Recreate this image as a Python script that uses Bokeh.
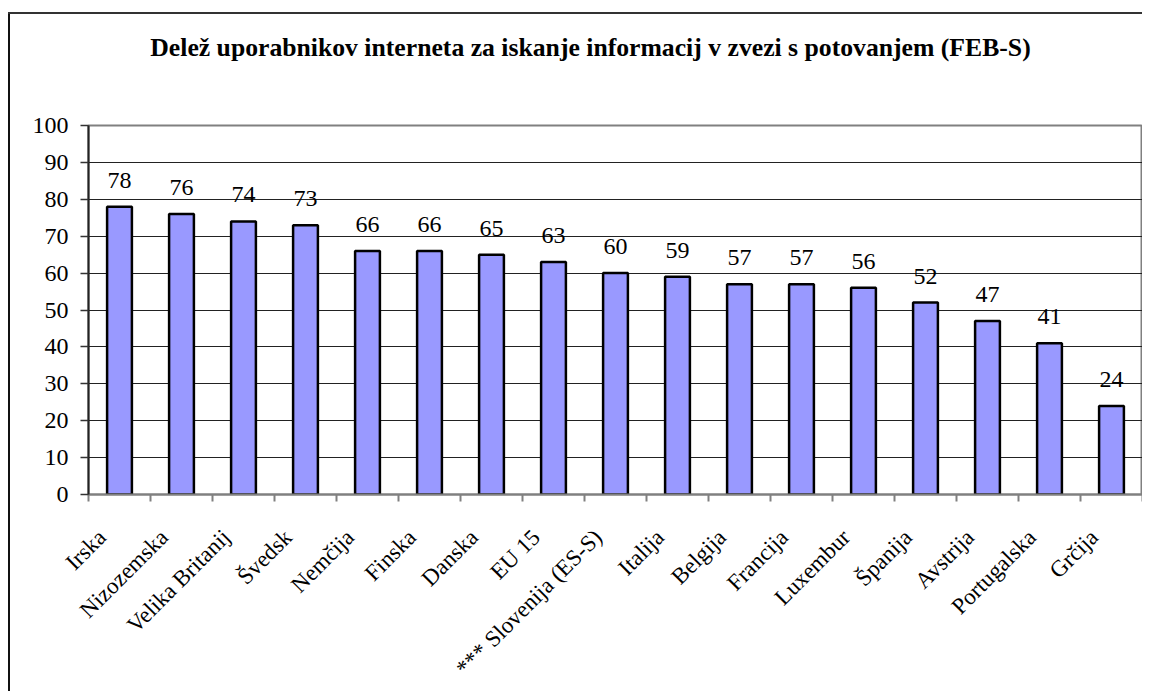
import math
from bokeh.plotting import figure
from bokeh.layouts import column
from bokeh.models import FixedTicker, Range1d, ColumnDataSource, LabelSet
from bokeh.core.properties import value
from bokeh.embed import file_html
from bokeh.resources import INLINE

title_text = "Delež uporabnikov interneta za iskanje informacij v zvezi s potovanjem (FEB-S)"
countries = ["Irska", "Nizozemska", "Velika Britanij", "Švedsk", "Nemčija", "Finska",
             "Danska", "EU 15", "*** Slovenija (ES-S)", "Italija", "Belgija", "Francija",
             "Luxembur", "Španija", "Avstrija", "Portugalska", "Grčija"]
shares = [78, 76, 74, 73, 66, 66, 65, 63, 60, 59, 57, 57, 56, 52, 47, 41, 24]
y_ticks = [0, 10, 20, 30, 40, 50, 60, 70, 80, 90, 100]

n = len(countries)
centers = [i + 0.5 for i in range(n)]
label_pos = [c - 0.28 for c in centers]
bounds = list(range(n + 1))

src = ColumnDataSource(dict(x=centers, y=shares, lab=[str(v) for v in shares]))

FONT = "Liberation Serif"
FS = "24px"
W = 1142
LEFT = 88
FRAME_W = W - LEFT
TITLE_H = 100

# ---- title strip (its frame is aligned with the chart frame by the column)
t = figure(width=W, height=TITLE_H, min_border_left=LEFT, min_border_right=0,
           min_border_top=0, min_border_bottom=0, frame_width=FRAME_W,
           x_range=Range1d(LEFT, W), y_range=Range1d(-TITLE_H, 0),
           x_axis_type=None, y_axis_type=None,
           output_backend="svg", toolbar_location=None,
           background_fill_alpha=0, border_fill_alpha=0, outline_line_color=None)
t.text(x=[590], y=[-47], text=[title_text], text_align="center", text_baseline="middle",
       text_font=value(FONT), text_font_size="25.7px", text_font_style="bold",
       text_color="black")

# ---- main chart
p = figure(frame_width=FRAME_W, frame_height=369,
           min_border_left=LEFT, min_border_right=0, min_border_top=25, min_border_bottom=150,
           x_range=Range1d(0, n), y_range=Range1d(0, 100),
           output_backend="svg", toolbar_location=None,
           background_fill_color="white", border_fill_alpha=0)

p.outline_line_color = "#808080"
p.outline_line_width = 2

p.vbar(x="x", top="y", width=0.4, source=src, fill_color="#9999FF",
       line_color="black", line_width=2.5)

p.add_layout(LabelSet(x="x", y="y", text="lab", source=src, text_align="center",
                      text_baseline="alphabetic", y_offset=19,
                      text_font=FONT, text_font_size=FS, text_color="black"))

p.yaxis.ticker = FixedTicker(ticks=y_ticks, minor_ticks=[])
p.yaxis.axis_line_color = "#222222"
p.yaxis.axis_line_width = 2
p.yaxis.major_tick_line_color = "#333333"
p.yaxis.major_tick_line_width = 1.5
p.yaxis.major_tick_out = 8
p.yaxis.major_tick_in = 0
p.yaxis.minor_tick_line_color = None
p.yaxis.major_label_standoff = 12
p.yaxis.major_label_text_font = FONT
p.yaxis.major_label_text_font_size = FS
p.yaxis.major_label_text_color = "black"

p.xaxis.ticker = FixedTicker(ticks=label_pos, minor_ticks=bounds)
p.xaxis.major_label_overrides = {c: name for c, name in zip(label_pos, countries)}
p.xaxis.major_label_orientation = math.pi / 4
p.xaxis.major_tick_line_color = None
p.xaxis.major_tick_out = 0
p.xaxis.major_tick_in = 0
p.xaxis.minor_tick_line_color = "#808080"
p.xaxis.minor_tick_line_width = 2
p.xaxis.minor_tick_out = 7
p.xaxis.minor_tick_in = 0
p.xaxis.axis_line_color = "#808080"
p.xaxis.axis_line_width = 2
p.xaxis.major_label_standoff = 32
p.xaxis.major_label_text_font = FONT
p.xaxis.major_label_text_font_size = "23px"
p.xaxis.major_label_text_color = "black"

p.xgrid.grid_line_color = None
p.ygrid.ticker = FixedTicker(ticks=y_ticks)
p.ygrid.grid_line_color = "#222222"
p.ygrid.grid_line_width = 1.2

layout = column(t, p, spacing=0)
layout.styles = {"background-color": "white",
                 "box-shadow": ("inset 0 12px 0 0 #ffffff, inset 8px 0 0 0 #ffffff, "
                                "inset 0 14px 0 0 #333333, inset 10px 0 0 0 #111111")}

open("out.html", "w").write(file_html(layout, INLINE))
